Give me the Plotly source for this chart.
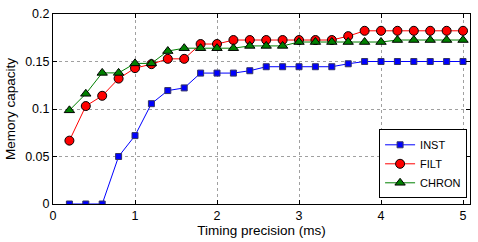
import plotly.graph_objects as go

x = [0.2, 0.4, 0.6, 0.8, 1.0, 1.2, 1.4, 1.6, 1.8, 2.0, 2.2, 2.4, 2.6, 2.8, 3.0,
     3.2, 3.4, 3.6, 3.8, 4.0, 4.2, 4.4, 4.6, 4.8, 5.0]
inst = [0.0, 0.0, 0.0, 0.05, 0.072, 0.1056, 0.1194, 0.1222, 0.1378, 0.1378, 0.1378,
        0.1403, 0.1445, 0.1445, 0.1445, 0.1445, 0.1445, 0.1476, 0.15, 0.15, 0.15,
        0.15, 0.15, 0.15, 0.15]
filt = [0.0667, 0.1031, 0.1139, 0.132, 0.143, 0.1472, 0.1528, 0.1528, 0.1684, 0.1684,
        0.1726, 0.1726, 0.1726, 0.1726, 0.1726, 0.1726, 0.1726, 0.1767, 0.1823, 0.1823,
        0.1823, 0.1823, 0.1823, 0.1823, 0.1823]
chron = [0.0986, 0.116, 0.138, 0.138, 0.148, 0.148, 0.161, 0.164, 0.164, 0.164, 0.164,
         0.1664, 0.1664, 0.1664, 0.1705, 0.1705, 0.1705, 0.1705, 0.1705, 0.1705, 0.1726,
         0.1726, 0.1726, 0.1726, 0.1726]
x_ticks = [0, 1, 2, 3, 4, 5]
y_ticks = [0, 0.05, 0.1, 0.15, 0.2]
y_tick_text = ["0", "0.05", "0.1", "0.15", "0.2"]

fig = go.Figure()
fig.add_trace(go.Scatter(x=x, y=inst, name="INST", mode="lines+markers",
                         line=dict(color="#0000ff", width=1),
                         marker=dict(symbol="square", size=6, color="#0000ff",
                                     line=dict(color="#333366", width=1))))
fig.add_trace(go.Scatter(x=x, y=filt, name="FILT", mode="lines+markers",
                         line=dict(color="#ff0000", width=1),
                         marker=dict(symbol="circle", size=9, color="#ff0000",
                                     line=dict(color="#000000", width=1))))
fig.add_trace(go.Scatter(x=x, y=chron, name="CHRON", mode="lines+markers",
                         line=dict(color="#008000", width=1),
                         marker=dict(symbol="triangle-up", size=9, color="#008000",
                                     line=dict(color="#000000", width=1))))

axis_common = dict(showline=True, linecolor="black", linewidth=1, mirror="ticks",
                   ticks="inside", ticklen=4, tickcolor="black",
                   showgrid=True, gridcolor="#a0a0a0", griddash="dot", gridwidth=1,
                   zeroline=False, tickfont=dict(size=12.5, color="black"))

fig.update_layout(
    width=478, height=242,
    margin=dict(l=53, r=7, t=12, b=38),
    paper_bgcolor="white", plot_bgcolor="white",
    font=dict(family="Liberation Sans, Arial, sans-serif", color="black"),
    xaxis=dict(range=[0, 5.085], tickvals=x_ticks,
               title=dict(text="Timing precision (ms)", font=dict(size=13.5), standoff=3),
               **axis_common),
    yaxis=dict(range=[0, 0.2], tickvals=y_ticks, ticktext=y_tick_text,
               title=dict(text="Memory capacity", font=dict(size=13.5), standoff=6),
               **axis_common),
    legend=dict(x=0.993, y=0.03, xanchor="right", yanchor="bottom",
                bgcolor="white", bordercolor="black", borderwidth=1,
                font=dict(size=11), tracegroupgap=0, itemwidth=30),
    showlegend=True,
)

fig.write_html("out.html", config={"displayModeBar": False},
               post_script="document.body.style.margin='0';document.body.style.overflow='hidden';")
